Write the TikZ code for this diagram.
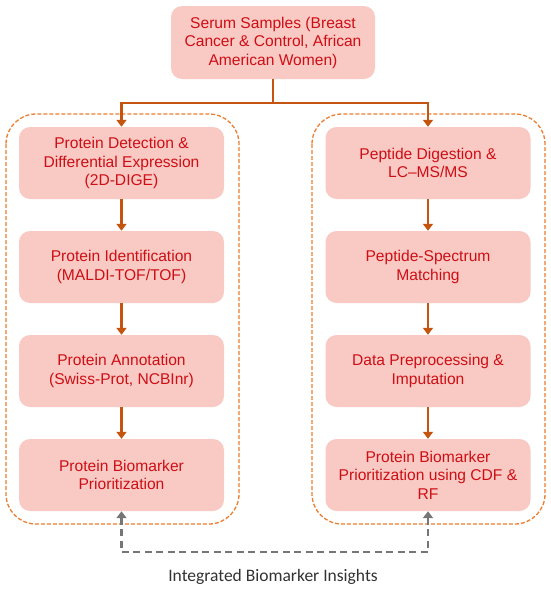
\documentclass[tikz,border=0pt]{standalone}
\usepackage{fontspec}
\setmainfont{Liberation Sans}
\newfontfamily\calibri{Carlito}
\usetikzlibrary{arrows.meta}
\definecolor{boxfill}{RGB}{249,202,195}
\definecolor{boxtext}{RGB}{206,14,22}
\definecolor{arrcol}{RGB}{197,84,17}
\definecolor{contcol}{RGB}{237,125,49}
\definecolor{graycol}{RGB}{118,118,118}
\definecolor{captcol}{RGB}{50,50,50}
\tikzset{
  stepbox/.style={fill=boxfill, draw=none, rounded corners=11pt, minimum width=205pt, minimum height=72pt,
    align=center, text=boxtext, font=\fontsize{15.6}{18.5}\selectfont, inner sep=0pt},
  flow/.style={draw=arrcol, line width=2.4pt, -{Triangle[width=10pt,length=7pt]}},
  flowline/.style={draw=arrcol, line width=2.4pt},
  cont/.style={draw=contcol, line width=1.3pt, dash pattern=on 4pt off 2pt, rounded corners=30pt},
  gdash/.style={draw=graycol, line width=2.2pt, dash pattern=on 7pt off 4.5pt, {Triangle[width=10pt,length=7pt]}-{Triangle[width=10pt,length=7pt]}},
}
\begin{document}
\begin{tikzpicture}[x=1pt,y=-1pt]
\useasboundingbox (0,0) rectangle (550,589);
% containers
\draw[cont] (6,114) rectangle (239,524);
\draw[cont] (312,114) rectangle (545,524);
% nodes
\node[stepbox, minimum width=204pt, minimum height=73pt] (top) at (273,42.5) {Serum Samples (Breast\\Cancer \& Control, African\\American Women)};
\node[stepbox] (l1) at (121.5,163) {Protein Detection \&\\Differential Expression\\(2D-DIGE)};
\node[stepbox] (l2) at (121.5,267) {Protein Identification\\(MALDI-TOF/TOF)};
\node[stepbox] (l3) at (121.5,371) {Protein Annotation\\(Swiss-Prot, NCBInr)};
\node[stepbox] (l4) at (121.5,475) {Protein Biomarker\\Prioritization};
\node[stepbox] (r1) at (428,163) {Peptide Digestion \&\\LC–MS/MS};
\node[stepbox] (r2) at (428,267) {Peptide-Spectrum\\Matching};
\node[stepbox] (r3) at (428,371) {Data Preprocessing \&\\Imputation};
\node[stepbox] (r4) at (428,475) {Protein Biomarker\\Prioritization using CDF \&\\RF};
\coordinate (j) at (273,103);
% connectors
\draw[flowline] (top.south) -- (j);
\draw[flow] (j) -| (l1.north);
\draw[flow] (j) -| (r1.north);
\draw[flow] (l1) -- (l2);
\draw[flow] (l2) -- (l3);
\draw[flow] (l3) -- (l4);
\draw[flow] (r1) -- (r2);
\draw[flow] (r2) -- (r3);
\draw[flow] (r3) -- (r4);
\coordinate (gl) at (121.5,552);
\draw[gdash] (l4.south) -- (gl) -| (r4.south);
\node[font=\calibri\fontsize{17.5}{20}\selectfont, text=captcol] (cap) at (273,577) {Integrated Biomarker Insights};
\end{tikzpicture}
\end{document}
